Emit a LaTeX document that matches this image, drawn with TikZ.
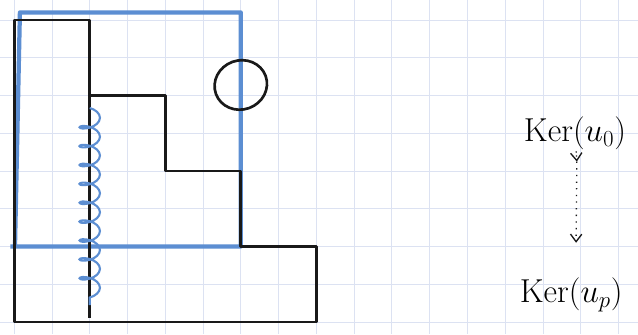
\documentclass[tikz,border=0pt]{standalone}
\usepackage{amsmath}
\usepackage{xcolor}
\usepackage{tikz}
\usetikzlibrary{arrows.meta,positioning,decorations.pathmorphing,shapes.geometric}
\definecolor{paperline}{RGB}{220,226,242}
\definecolor{inkblack}{RGB}{25,25,25}
\definecolor{inkblue}{RGB}{92,142,210}
\newcommand{\paperframe}{\draw[paperline,line width=0.5pt,step=1] (-0.377,-0.318) grid (16.52,8.53);}
\tikzset{
  blackpen/.style={inkblack,line width=2pt,line join=round},
  bluepen/.style={inkblue,line width=3.2pt,line join=round},
  kerlabel/.style={font=\fontsize{25}{30}\selectfont,inner sep=1pt},
}

\begin{document}
\begin{tikzpicture}
\useasboundingbox (-0.377,-0.318) rectangle (16.52,8.53);
\fill[white] (-0.377,-0.318) rectangle (16.52,8.53);
\paperframe
% blue frame
\draw[bluepen] (-0.1,2) -- (6,2) -- (6,8.2) -- (0.15,8.2) -- (0.02,2);
% staircase
\draw[blackpen] (0,8) -- (2,8) -- (2,6) -- (4,6) -- (4,4) -- (6,4) -- (6,2) -- (8,2) -- (8,0) -- (0,0) -- cycle;
\draw[blackpen] (2,8) -- (2,0.1);
\draw[inkblue,line width=1.6pt,decorate,decoration={coil,amplitude=0.27cm,segment length=0.5cm,aspect=0.5}] (2,5.67) -- (2,0.45);
\node[blackpen,draw,ellipse,minimum width=1.4cm,minimum height=1.3cm,rotate=20] (hole) at (6,6.28) {};
% kernels
\node[kerlabel] (ker0) at (14.85,5.0) {Ker$(u_0)$};
\node[kerlabel] (kerp) at (14.75,0.72) {Ker$(u_p)$};
\coordinate (mid) at (14.9,4.25);
\coordinate (tip) at (14.88,2.1);
\draw[inkblack,line width=1pt,dotted,-{Straight Barb[length=2mm,width=3mm]}] (ker0) -- (mid);
\draw[inkblack,line width=1pt,loosely dotted,-{Straight Barb[length=2mm,width=3mm]}] (mid) -- (tip);
\end{tikzpicture}
\end{document}
